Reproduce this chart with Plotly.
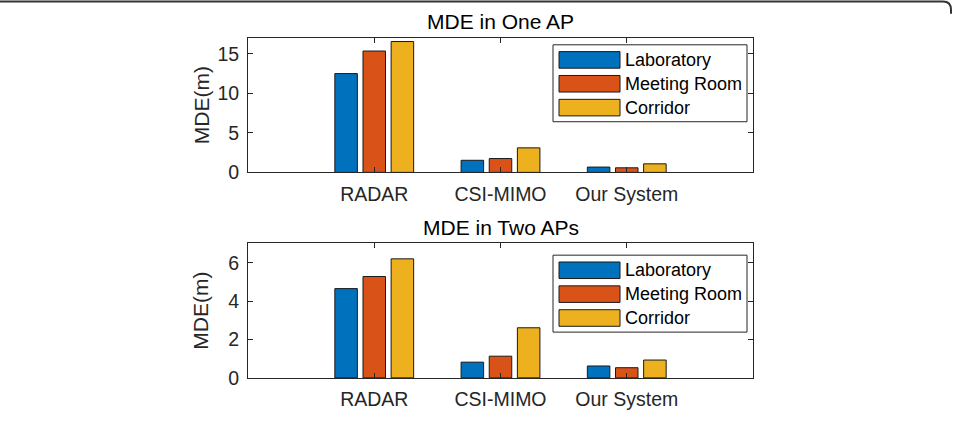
import plotly.graph_objects as go

# ---- data ----
categories = ["RADAR", "CSI-MIMO", "Our System"]
series_names = ["Laboratory", "Meeting Room", "Corridor"]
one_ap = {
    "Laboratory": [12.5, 1.53, 0.67],
    "Meeting Room": [15.35, 1.75, 0.58],
    "Corridor": [16.55, 3.1, 1.08],
}
two_aps = {
    "Laboratory": [4.65, 0.82, 0.62],
    "Meeting Room": [5.28, 1.13, 0.53],
    "Corridor": [6.2, 2.61, 0.93],
}
titles = ["MDE in One AP", "MDE in Two APs"]
y_ranges = [[0, 17], [0, 7]]
y_ticks = [[0, 5, 10, 15], [0, 2, 4, 6]]
colors = ["#0072BD", "#D95319", "#EDB120"]

W, H = 953, 422
FONT = "Liberation Sans, Arial, sans-serif"
TXT = "#262626"

def px(x):
    return x / W

def py(y):
    return 1 - y / H

boxes = [(248, 753, 39, 177), (248, 753, 250, 388)]

fig = go.Figure()
datasets = [one_ap, two_aps]
for i, data in enumerate(datasets):
    xa = "x" if i == 0 else "x2"
    ya = "y" if i == 0 else "y2"
    for name, col in zip(series_names, colors):
        fig.add_trace(go.Bar(
            x=categories, y=data[name], name=name,
            marker=dict(color=col, line=dict(color="#1a1a1a", width=1)),
            xaxis=xa, yaxis=ya, showlegend=False,
        ))

axis_common = dict(
    showgrid=False, zeroline=False, showline=True, linecolor=TXT, linewidth=1,
    mirror="ticks", ticks="inside", ticklen=5, tickcolor=TXT, tickwidth=1,
    tickfont=dict(family=FONT, size=19.5, color=TXT),
)

layout_axes = {}
for i, (l, r, t, b) in enumerate(boxes):
    sx = "" if i == 0 else "2"
    layout_axes["xaxis" + sx] = dict(
        axis_common, type="category", range=[-1, 3],
        domain=[px(l), px(r)], anchor="y" + sx, ticklabelstandoff=4,
    )
    layout_axes["yaxis" + sx] = dict(
        axis_common, range=y_ranges[i], tickvals=y_ticks[i],
        domain=[py(b), py(t)], anchor="x" + sx, ticklabelstandoff=4,
    )

annotations = []
shapes = []
title_y = [22, 234]
for i, (l, r, t, b) in enumerate(boxes):
    cx = (l + r) / 2
    annotations.append(dict(
        text=titles[i], x=px(cx), y=py(title_y[i]), xref="paper", yref="paper",
        xanchor="center", yanchor="middle", showarrow=False,
        font=dict(family=FONT, size=21, color="#000000"),
    ))
    annotations.append(dict(
        text="MDE(m)", x=px(201), y=py((t + b) / 2), xref="paper", yref="paper",
        xanchor="center", yanchor="middle", showarrow=False, textangle=-90,
        font=dict(family=FONT, size=21, color=TXT),
    ))
    lx0, lx1 = 553, 747
    ly0 = t + 7 if i == 0 else t + 12
    ly1 = ly0 + 79
    shapes.append(dict(type="rect", xref="paper", yref="paper",
                       x0=px(lx0), x1=px(lx1), y0=py(ly0), y1=py(ly1),
                       line=dict(color=TXT, width=1), fillcolor="white"))
    for k, (name, col) in enumerate(zip(series_names, colors)):
        cy = ly0 + 15.5 + k * 24.5
        shapes.append(dict(type="rect", xref="paper", yref="paper",
                           x0=px(lx0 + 6), x1=px(lx0 + 67),
                           y0=py(cy - 8.5), y1=py(cy + 8.5),
                           line=dict(color="#1a1a1a", width=1), fillcolor=col))
        annotations.append(dict(
            text=name, x=px(lx0 + 70), y=py(cy), xref="paper", yref="paper",
            xanchor="left", yanchor="middle", showarrow=False,
            font=dict(family=FONT, size=18, color="#000000"),
        ))

# outer frame (top edge with rounded right corner)
shapes.append(dict(type="path", xref="paper", yref="paper",
                   path=f"M {px(0)},{py(1.5)} L {px(943)},{py(1.5)} Q {px(951)},{py(1.5)} {px(951)},{py(10)} L {px(951)},{py(14)}",
                   line=dict(color="#333333", width=2)))

fig.update_layout(
    width=W, height=H, margin=dict(l=0, r=0, t=0, b=0),
    paper_bgcolor="white", plot_bgcolor="white",
    barmode="group", bargap=0.331, bargroupgap=0.2,
    annotations=annotations, shapes=shapes, showlegend=False,
    **layout_axes,
)

fig.write_html("out.html")
